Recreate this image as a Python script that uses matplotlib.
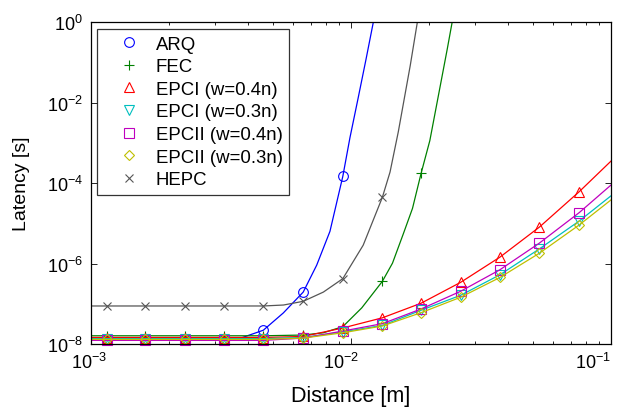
import numpy as np
import matplotlib
matplotlib.use("Agg")
import matplotlib.pyplot as plt
from matplotlib.ticker import NullLocator, NullFormatter, LogLocator
from matplotlib.transforms import ScaledTranslation

plt.rcParams['font.family'] = 'Liberation Sans'
plt.rcParams['mathtext.fontset'] = 'custom'
plt.rcParams['mathtext.rm'] = 'Liberation Sans'
plt.rcParams['mathtext.it'] = 'Liberation Sans'
plt.rcParams['mathtext.default'] = 'regular'

# marker positions (distance in m)
x_mark = [1.15e-3, 1.62e-3, 2.30e-3, 3.25e-3, 4.6e-3, 6.55e-3, 9.3e-3,
          1.32e-2, 1.86e-2, 2.64e-2, 3.74e-2, 5.3e-2, 7.55e-2]

# marker values (only the ones inside the plotted range)
arq_mark = [1.3e-8, 1.3e-8, 1.3e-8, 1.3e-8, 2.2e-8, 1.95e-7, 1.46e-4]
fec_mark = [1.6e-8, 1.6e-8, 1.6e-8, 1.6e-8, 1.6e-8, 1.67e-8, 2.7e-8, 3.6e-7, 1.73e-4]
epc1_04_mark = [1.45e-8, 1.45e-8, 1.45e-8, 1.45e-8, 1.45e-8, 1.54e-8, 2.5e-8,
                4.47e-8, 1.03e-7, 3.4e-7, 1.44e-6, 8.0e-6, 6.1e-5]
epc1_03_mark = [1.36e-8, 1.36e-8, 1.36e-8, 1.36e-8, 1.36e-8, 1.45e-8, 2.0e-8,
                2.9e-8, 6.9e-8, 1.62e-7, 5.25e-7, 2.3e-6, 1.14e-5]
epc2_04_mark = [1.23e-8, 1.23e-8, 1.23e-8, 1.23e-8, 1.23e-8, 1.4e-8, 2.1e-8,
                3.2e-8, 7.4e-8, 2.04e-7, 7.0e-7, 3.2e-6, 1.84e-5]
epc2_03_mark = [1.3e-8, 1.3e-8, 1.3e-8, 1.3e-8, 1.3e-8, 1.4e-8, 1.9e-8,
                2.8e-8, 6.0e-8, 1.45e-7, 4.5e-7, 1.8e-6, 9.1e-6]
hepc_mark = [8.8e-8, 8.8e-8, 8.8e-8, 8.8e-8, 8.8e-8, 1.15e-7, 4.2e-7, 4.4e-5]

# curves
x_epc_line = [1e-3] + x_mark + [1e-1]
epc1_04_line = [1.45e-8] + epc1_04_mark + [3.5e-4]
epc1_03_line = [1.36e-8] + epc1_03_mark + [4.8e-5]
epc2_04_line = [1.23e-8] + epc2_04_mark + [8.9e-5]
epc2_03_line = [1.3e-8] + epc2_03_mark + [3.8e-5]

x_arq_line = [1e-3, 3.25e-3, 3.74e-3, 4.6e-3, 5.49e-3, 6.55e-3, 7.38e-3, 8.3e-3,
              9.3e-3, 9.91e-3, 1.064e-2, 1.143e-2, 1.219e-2, 1.294e-2]
arq_line = [1.3e-8, 1.3e-8, 1.38e-8, 2.2e-8, 5.9e-8, 1.95e-7, 9.1e-7, 6.3e-6,
            1.46e-4, 1.35e-3, 1.24e-2, 0.121, 1.0, 8.7]

x_fec_line = [1e-3, 4.6e-3, 6.55e-3, 7.83e-3, 9.3e-3, 1.1e-2, 1.32e-2, 1.444e-2,
              1.59e-2, 1.724e-2, 1.86e-2, 2.01e-2, 2.157e-2, 2.346e-2, 2.45e-2, 2.55e-2]
fec_line = [1.6e-8, 1.6e-8, 1.67e-8, 1.9e-8, 2.7e-8, 7.9e-8, 3.6e-7, 1.02e-6,
            5.5e-6, 2.34e-5, 1.73e-4, 1.13e-3, 1.24e-2, 0.215, 1.0, 6.0]

x_hepc_line = [1e-3, 4.6e-3, 5.5e-3, 6.55e-3, 7.83e-3, 9.3e-3, 1.114e-2, 1.32e-2,
               1.413e-2, 1.52e-2, 1.69e-2, 1.8e-2, 1.9e-2]
hepc_line = [8.8e-8, 8.8e-8, 9.3e-8, 1.15e-7, 1.95e-7, 4.2e-7, 2.85e-6, 4.4e-5,
             1.87e-4, 1.86e-3, 8.3e-2, 1.0, 10.0]

labels = ['ARQ', 'FEC', 'EPCI (w=0.4n)', 'EPCI (w=0.3n)',
          'EPCII (w=0.4n)', 'EPCII (w=0.3n)', 'HEPC']
colors = ['#0000ff', '#008000', '#ff0000', '#00bfbf', '#bf00bf', '#bfbf00', '#555555']
markers = ['o', '+', '^', 'v', 's', 'D', 'x']
msizes = [7, 7, 7.5, 7.5, 6.5, 5.5, 5.5]

lines = [(x_arq_line, arq_line), (x_fec_line, fec_line),
         (x_epc_line, epc1_04_line), (x_epc_line, epc1_03_line),
         (x_epc_line, epc2_04_line), (x_epc_line, epc2_03_line),
         (x_hepc_line, hepc_line)]
marks = [arq_mark, fec_mark, epc1_04_mark, epc1_03_mark,
         epc2_04_mark, epc2_03_mark, hepc_mark]

fig = plt.figure(figsize=(6.27, 4.14), dpi=100)
ax = fig.add_axes([91/627, 1-345/414, 520/627, 322/414])

for (xl, yl), ym, lab, c, m, ms in zip(lines, marks, labels, colors, markers, msizes):
    ax.plot(xl, yl, color=c, lw=0.9)
    ax.plot(x_mark[:len(ym)], ym, linestyle='none', marker=m, ms=ms,
            mfc='none', mec=c, mew=0.8, label=lab, clip_on=False)

ax.set_xscale('log')
ax.set_yscale('log')
ax.set_xlim(1e-3, 1e-1)
ax.set_ylim(1e-8, 1)

ax.set_xticks([1e-3, 1e-2, 1e-1])
ax.set_xticklabels([r'$10^{-3}$', r'$10^{-2}$', r'$10^{-1}$'])
ax.xaxis.set_minor_locator(LogLocator(base=10, subs=np.arange(2, 10)))
ax.xaxis.set_minor_formatter(NullFormatter())
ax.set_yticks([1e-8, 1e-6, 1e-4, 1e-2, 1])
ax.set_yticklabels([r'$10^{-8}$', r'$10^{-6}$', r'$10^{-4}$', r'$10^{-2}$', r'$10^{0}$'])
ax.yaxis.set_minor_locator(NullLocator())

ax.tick_params(which='both', direction='in', top=True, right=True,
               labelsize=13, width=0.6)
ax.tick_params(which='major', length=4.5, pad=6)
ax.tick_params(which='minor', length=2.5)
for s in ax.spines.values():
    s.set_linewidth(0.9)

# x tick labels sit a little left of their ticks, as in the original export
for lbl, dx in zip(ax.get_xticklabels(), [-2, -10, -18]):
    lbl.set_transform(lbl.get_transform() + ScaledTranslation(dx / 100, 0, fig.dpi_scale_trans))

ax.set_xlabel('Distance [m]', fontsize=15.5, labelpad=9)
ax.set_ylabel('Latency [s]', fontsize=14, labelpad=12)

leg = ax.legend(loc='upper left', bbox_to_anchor=(0.012, 0.978), borderaxespad=0,
                fontsize=13.4, frameon=True, fancybox=False, edgecolor='black',
                handlelength=2.7, handletextpad=0.1, labelspacing=0.3,
                borderpad=0.35, numpoints=1)
leg.get_frame().set_linewidth(0.9)

fig.savefig('out.png', dpi=100)
